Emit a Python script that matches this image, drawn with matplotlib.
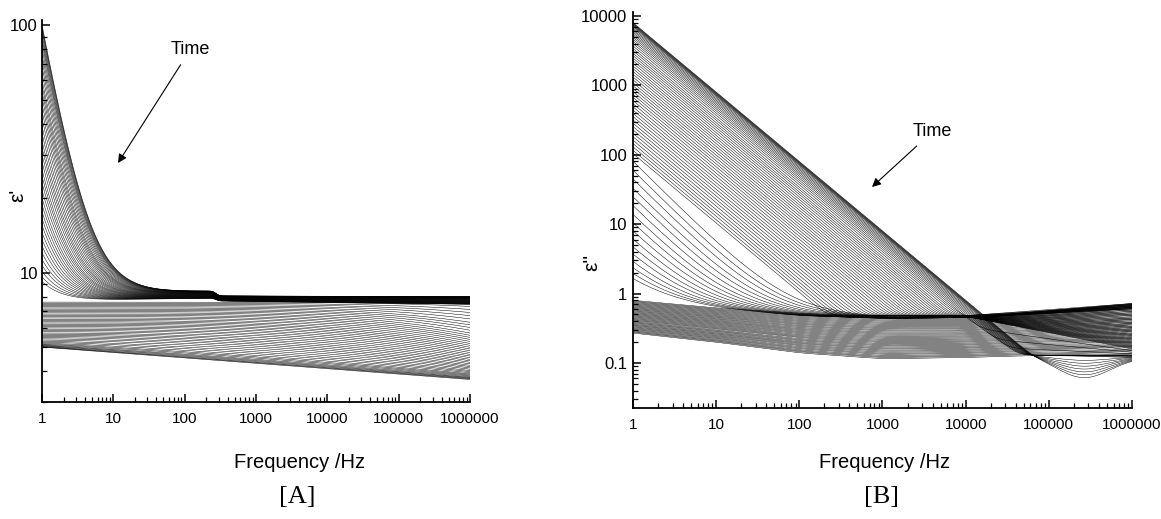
import numpy as np
import matplotlib
matplotlib.use("Agg")
import matplotlib.pyplot as plt
from matplotlib.ticker import FixedLocator, FixedFormatter, LogLocator, NullFormatter

plt.rcParams['font.family'] = ['Liberation Sans', 'DejaVu Sans']

# ---------------- data ----------------
# panel A, eps' : curves with electrode polarisation, value at 1 Hz
epsA_ep_start = [100, 98, 96, 93, 90, 87, 84, 80, 76, 72, 68, 64, 60, 57, 54, 51,
                 48, 45, 42, 39, 36.5, 34, 32, 30, 28, 26, 24.5, 23, 21.5, 20,
                 18.8, 17.6, 16.5, 15.5, 14.5, 13.6, 12.8, 12, 11.3, 10.7, 10.1,
                 9.6, 9.2]
ep_power = 1.6
# plateau reached once polarisation has died out (first / last of those curves)
plateau_freq = [1, 20, 250, 300, 1e6]
plateau_first = [8.2, 8.35, 8.42, 8.05, 8.0]
plateau_last = [7.65, 7.8, 7.88, 7.68, 7.45]

# panel A, later curves: eps' at 1 Hz and at 1 MHz
epsA_late_start = [7.60, 7.52, 7.44, 7.36, 7.28, 7.20, 7.12, 7.04, 6.96, 6.88,
                   6.80, 6.72, 6.64, 6.56, 6.48, 6.40, 6.33, 6.26, 6.19, 6.12,
                   6.05, 5.98, 5.91, 5.84, 5.77, 5.70, 5.64, 5.58, 5.52, 5.46,
                   5.40, 5.34, 5.28, 5.23, 5.18, 5.14, 5.11, 5.08, 5.06, 5.04,
                   5.02, 5.01, 5.00]
epsA_late_end = [7.3, 7.1, 6.9, 6.7, 6.5, 6.3, 6.15, 6.0, 5.85, 5.7, 5.58, 5.47,
                 5.37, 5.27, 5.17, 5.08, 4.99, 4.91, 4.83, 4.75, 4.67, 4.6, 4.53,
                 4.46, 4.4, 4.34, 4.28, 4.22, 4.17, 4.12, 4.07, 4.02, 3.98, 3.94,
                 3.9, 3.87, 3.84, 3.81, 3.78, 3.76, 3.74, 3.72, 3.70]

# panel B, eps'' : conduction lines, value at 1 Hz (slope -1)
epsB_cond = [8000, 7850, 7700, 7550, 7400, 7200, 7000, 6700, 6400, 6100, 5800,
             5500, 5200, 4900, 4600, 4300, 4000, 3700, 3400, 3150, 2900, 2680,
             2470, 2270, 2080, 1900, 1740, 1590, 1450, 1320, 1200, 1090, 990,
             900, 815, 740, 670, 605, 545, 490, 440, 395, 355, 318, 285, 255,
             228, 204, 182, 162, 145, 130, 116, 104]
cond_ref = [8000, 5500, 4300, 104]
cond_floor_mid = [0.13, 0.13, 0.47, 0.48]   # level up to 10 kHz
cond_floor_hf = [0.12, 0.13, 0.16, 0.72]    # level at 1 MHz
cond_dip = [0.30, 0.26, 0.22, 0.18, 0.14, 0.10, 0.06]  # decades, near 260 kHz

# panel B, weaker conduction (slope -1.2), value at 1 Hz
epsB_sparse = [80, 59, 44, 32, 24, 17.7, 13, 9.7, 7.2, 5.3, 3.9, 2.9, 2.1,
               1.55, 1.15, 0.85]
sparse_slope = 1.2

# panel B, loss without conduction, value at 1 Hz
epsB_late = [0.80, 0.778, 0.757, 0.736, 0.716, 0.696, 0.677, 0.658, 0.640,
             0.622, 0.605, 0.589, 0.572, 0.557, 0.541, 0.526, 0.512, 0.498,
             0.484, 0.471, 0.458, 0.445, 0.433, 0.421, 0.410, 0.398, 0.387,
             0.377, 0.366, 0.356, 0.347, 0.337, 0.328, 0.319, 0.310, 0.302,
             0.293, 0.285, 0.278, 0.27]
loss_freq = [1, 10, 100, 1e3, 1e4, 1e5, 1e6]
loss_first = [0.80, 0.62, 0.52, 0.46, 0.45, 0.55, 0.70]
loss_last = [0.27, 0.20, 0.14, 0.115, 0.12, 0.13, 0.12]
sparse_floor_first = [0.85, 0.64, 0.50, 0.45, 0.45, 0.52, 0.60]
sparse_floor_last = [0.80, 0.60, 0.48, 0.44, 0.45, 0.57, 0.72]

# ---------------- helpers ----------------
freq = np.logspace(0, 6, 400)
lf = np.log10(freq)
step = lf[1] - lf[0]


def loglog(af, av, width=0.12):
    y = np.interp(lf, np.log10(af), np.log10(av))
    if width > 0:
        n = int(3 * width / step)
        k = np.exp(-0.5 * (np.arange(-n, n + 1) * step / width) ** 2)
        k /= k.sum()
        y = np.convolve(np.pad(y, n, mode='reflect', reflect_type='odd'), k, mode='valid')
    return 10 ** y


def pos(vals, v):
    a, b = np.log10(vals[0]), np.log10(vals[-1])
    return (a - np.log10(v)) / (a - b)


def mix(first, last, t):
    return 10 ** ((1 - t) * np.log10(first) + t * np.log10(last))


LW = 0.35
fig = plt.figure(figsize=(11.61, 5.19), dpi=100)
axA = fig.add_axes([0.0362, 0.2254, 0.3687, 0.7361])
axB = fig.add_axes([0.5452, 0.2139, 0.4298, 0.7630])

# ---------------- panel A ----------------
for s in epsA_ep_start:
    t = pos(epsA_ep_start, s)
    pl = loglog(plateau_freq, mix(plateau_first, plateau_last, t), width=0.03)
    axA.plot(freq, pl + (s - pl[0]) * freq ** -ep_power, color='k', lw=LW)

u = lf / 6.0
for v1, v6 in zip(epsA_late_start, epsA_late_end):
    t = pos(epsA_late_start, v1)
    p = 5 - 4 * t
    y = np.log10(v1) + (np.log10(v6) - np.log10(v1)) * u ** p
    axA.plot(freq, 10 ** y, color='k', lw=LW)

# ---------------- panel B ----------------
P = 8
for i, c in enumerate(epsB_cond):
    lc = np.log10(c)
    m = 10 ** np.interp(-lc, -np.log10(cond_ref), np.log10(cond_floor_mid))
    d = 10 ** np.interp(-lc, -np.log10(cond_ref), np.log10(cond_floor_hf))
    floor = loglog([1, 1e4, 1e6], [m, m, d], width=0.1)
    if i < len(cond_dip):
        floor = floor * 10 ** (-cond_dip[i] * np.exp(-((lf - 5.42) / 0.45) ** 2))
    cond = c / freq
    axB.plot(freq, (cond ** P + floor ** P) ** (1 / P), color='k', lw=LW)

for c in epsB_sparse:
    t = pos(epsB_sparse, c)
    floor = loglog(loss_freq, mix(sparse_floor_first, sparse_floor_last, t))
    axB.plot(freq, c / freq ** sparse_slope + floor, color='k', lw=LW)

for a in epsB_late:
    t = pos(epsB_late, a)
    axB.plot(freq, loglog(loss_freq, mix(loss_first, loss_last, t)), color='k', lw=LW)

# ---------------- axes ----------------
xt = [1, 10, 100, 1000, 10000, 100000, 1000000]
for ax in (axA, axB):
    ax.set_xscale('log')
    ax.set_yscale('log')
    ax.set_xlim(1, 1e6)
    for s in ('top', 'right'):
        ax.spines[s].set_visible(False)
    for s in ('left', 'bottom'):
        ax.spines[s].set_linewidth(1.3)
    ax.xaxis.set_major_locator(FixedLocator(xt))
    ax.xaxis.set_major_formatter(FixedFormatter([str(v) for v in xt]))
    ax.xaxis.set_minor_locator(LogLocator(base=10, subs=np.arange(2, 10)))
    ax.yaxis.set_minor_locator(LogLocator(base=10, subs=np.arange(2, 10)))
    ax.xaxis.set_minor_formatter(NullFormatter())
    ax.yaxis.set_minor_formatter(NullFormatter())
    ax.tick_params(which='major', direction='in', length=6, width=1.1, labelsize=11)
    ax.tick_params(which='minor', direction='in', length=3.5, width=0.9)
    ax.tick_params(axis='x', pad=7)

axA.set_ylim(3.0, 105)
axA.yaxis.set_major_locator(FixedLocator([10, 100]))
axA.yaxis.set_major_formatter(FixedFormatter(['10', '100']))
axA.tick_params(axis='y', pad=3, labelsize=12)

axB.set_ylim(0.0225, 11400)
yt = [0.1, 1, 10, 100, 1000, 10000]
axB.yaxis.set_major_locator(FixedLocator(yt))
axB.yaxis.set_major_formatter(FixedFormatter(['0.1', '1', '10', '100', '1000', '10000']))
axB.tick_params(axis='y', pad=4, labelsize=12)

W, H = 1161.0, 519.0
fig.text(300 / W, 1 - 463 / H, 'Frequency /Hz', ha='center', va='center', fontsize=14.5)
fig.text(885 / W, 1 - 463 / H, 'Frequency /Hz', ha='center', va='center', fontsize=14.5)
fig.text(297 / W, 1 - 497 / H, '[A]', ha='center', va='center', fontsize=19,
         family=['Liberation Serif', 'DejaVu Serif'])
fig.text(882 / W, 1 - 497 / H, '[B]', ha='center', va='center', fontsize=19,
         family=['Liberation Serif', 'DejaVu Serif'])
fig.text(18 / W, 1 - 195 / H, "ε'", ha='center', va='center', rotation=90, fontsize=15)
fig.text(592 / W, 1 - 262 / H, "ε''", ha='center', va='center', rotation=90, fontsize=15)

arrow = dict(arrowstyle='-|>', color='k', lw=0.8, mutation_scale=13, shrinkA=3, shrinkB=0)
axA.annotate('Time', xy=(118 / W, 1 - 163 / H), xytext=(190 / W, 1 - 50 / H),
             xycoords='figure fraction', textcoords='figure fraction',
             ha='center', va='center', fontsize=13, arrowprops=arrow)
axB.annotate('Time', xy=(872 / W, 1 - 187 / H), xytext=(932 / W, 1 - 132 / H),
             xycoords='figure fraction', textcoords='figure fraction',
             ha='center', va='center', fontsize=13, arrowprops=arrow)

fig.savefig('out.png', dpi=100)
